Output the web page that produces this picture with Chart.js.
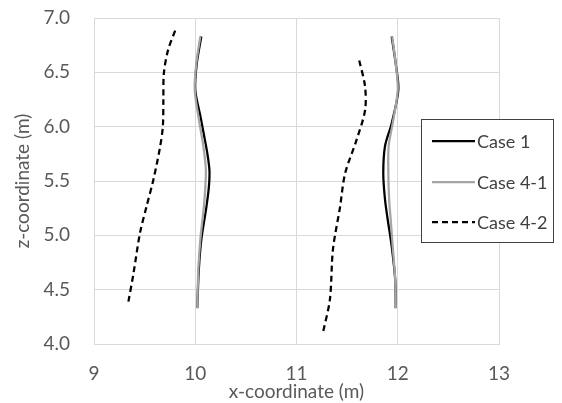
<!DOCTYPE html>
<html>
<head>
<meta charset="utf-8">
<script src="https://cdn.jsdelivr.net/npm/chart.js@4"></script>
<style>
  html, body { margin: 0; padding: 0; background: #fff; }
  #wrap { width: 562px; height: 403px; position: relative; }
</style>
</head>
<body>
<div id="wrap"><canvas id="chart"></canvas></div>
<script>
// [x, z] pairs, two columns per case
const case1Left = [[10.02,4.33],[10.035,4.68],[10.06,4.96],[10.11,5.26],[10.135,5.45],[10.14,5.6],[10.12,5.75],[10.095,5.88],[10.05,6.1],[10.0,6.34],[10.015,6.58],[10.06,6.83]];
const case1Right = [[11.98,4.33],[11.975,4.59],[11.94,4.9],[11.9,5.15],[11.874,5.33],[11.857,5.57],[11.874,5.82],[11.94,6.03],[12.006,6.34],[11.98,6.58],[11.94,6.83]];
const case41Left = [[10.02,4.33],[10.03,4.68],[10.05,4.96],[10.085,5.26],[10.1,5.45],[10.105,5.6],[10.09,5.75],[10.07,5.88],[10.03,6.1],[9.995,6.34],[10.01,6.58],[10.05,6.83]];
const case41Right = [[11.98,4.33],[11.975,4.59],[11.95,4.9],[11.93,5.15],[11.915,5.33],[11.907,5.57],[11.91,5.82],[11.95,6.03],[12.0,6.34],[11.98,6.58],[11.945,6.83]];
const case42Left = [[9.34,4.39],[9.39,4.65],[9.454,5.02],[9.52,5.27],[9.586,5.51],[9.65,5.8],[9.68,6.0],[9.685,6.25],[9.69,6.49],[9.73,6.7],[9.81,6.905]];
const case42Right = [[11.265,4.12],[11.33,4.41],[11.36,4.87],[11.43,5.26],[11.48,5.57],[11.594,5.88],[11.677,6.15],[11.677,6.37],[11.617,6.62]];

const seriesNames = ['Case 1', 'Case 4-1', 'Case 4-2'];
const xTicks = [9, 10, 11, 12, 13];
const zTicks = [4.0, 4.5, 5.0, 5.5, 6.0, 6.5, 7.0];

function toPoints(left, right) {
    let pts = left.map(p => ({x: p[0], y: p[1]}));
    pts.push({x: null, y: null}); // break between the two columns
    return pts.concat(right.map(p => ({x: p[0], y: p[1]})));
}

const styles = [
    {color: '#000000', dash: [], order: 2},
    {color: '#a5a5a5', dash: [], order: 1},
    {color: '#000000', dash: [6, 4], order: 0}
];

const datasets = [
    toPoints(case1Left, case1Right),
    toPoints(case41Left, case41Right),
    toPoints(case42Left, case42Right)
].map((pts, i) => ({
    label: seriesNames[i],
    data: pts,
    order: styles[i].order,
    showLine: true,
    spanGaps: false,
    borderColor: styles[i].color,
    borderDash: styles[i].dash,
    borderWidth: 2.25,
    pointRadius: 0,
    tension: 0.3,
    fill: false
}));

// boxed legend drawn over the right side of the plot
const boxLegend = {
    id: 'boxLegend',
    afterDraw(chart) {
        const ctx = chart.ctx;
        const x0 = 421, y0 = 119, w = 132, h = 123;
        ctx.save();
        ctx.fillStyle = '#ffffff';
        ctx.fillRect(x0, y0, w, h);
        ctx.strokeStyle = '#404040';
        ctx.lineWidth = 1;
        ctx.strokeRect(x0 + 0.5, y0 + 0.5, w, h);
        ctx.font = '18px Lato';
        ctx.textBaseline = 'middle';
        ctx.fillStyle = '#404040';
        const rows = [141, 182, 222];
        chart.data.datasets.forEach((ds, i) => {
            const y = rows[i];
            ctx.beginPath();
            ctx.strokeStyle = ds.borderColor;
            ctx.lineWidth = 2.25;
            ctx.setLineDash(ds.borderDash);
            ctx.moveTo(432, y);
            ctx.lineTo(475, y);
            ctx.stroke();
            ctx.setLineDash([]);
            ctx.fillText(ds.label, 477, y + 1);
        });
        ctx.restore();
    }
};

const tickFont = {family: 'Lato', size: 19};

new Chart(document.getElementById('chart'), {
    type: 'scatter',
    data: {datasets: datasets},
    options: {
        responsive: true,
        maintainAspectRatio: false,
        animation: false,
        layout: {padding: {top: 18, right: 63, left: 0, bottom: 0}},
        plugins: {legend: {display: false}, tooltip: {enabled: false}},
        scales: {
            x: {
                type: 'linear',
                min: xTicks[0],
                max: xTicks[xTicks.length - 1],
                afterBuildTicks: axis => { axis.ticks = xTicks.map(v => ({value: v})); },
                afterFit: axis => { axis.height = 59; },
                // invisible tick marks push the labels down
                grid: {color: '#d9d9d9', drawTicks: true, tickLength: 18, tickColor: 'rgba(0,0,0,0)'},
                border: {color: '#d9d9d9'},
                ticks: {color: '#595959', font: tickFont, padding: 0, callback: v => String(v)},
                title: {display: true, text: 'x-coordinate (m)', color: '#595959', font: tickFont, padding: {top: 0, bottom: 0}}
            },
            y: {
                type: 'linear',
                min: zTicks[0],
                max: zTicks[zTicks.length - 1],
                afterBuildTicks: axis => { axis.ticks = zTicks.map(v => ({value: v})); },
                afterFit: axis => { axis.width = 94; },
                grid: {color: '#d9d9d9', drawTicks: true, tickLength: 24, tickColor: 'rgba(0,0,0,0)'},
                border: {color: '#d9d9d9'},
                ticks: {color: '#595959', font: tickFont, padding: 0, callback: v => v.toFixed(1)},
                title: {display: true, text: 'z-coordinate (m)', color: '#595959', font: tickFont, padding: {top: 11, bottom: 0}}
            }
        }
    },
    plugins: [boxLegend]
});
</script>
</body>
</html>
